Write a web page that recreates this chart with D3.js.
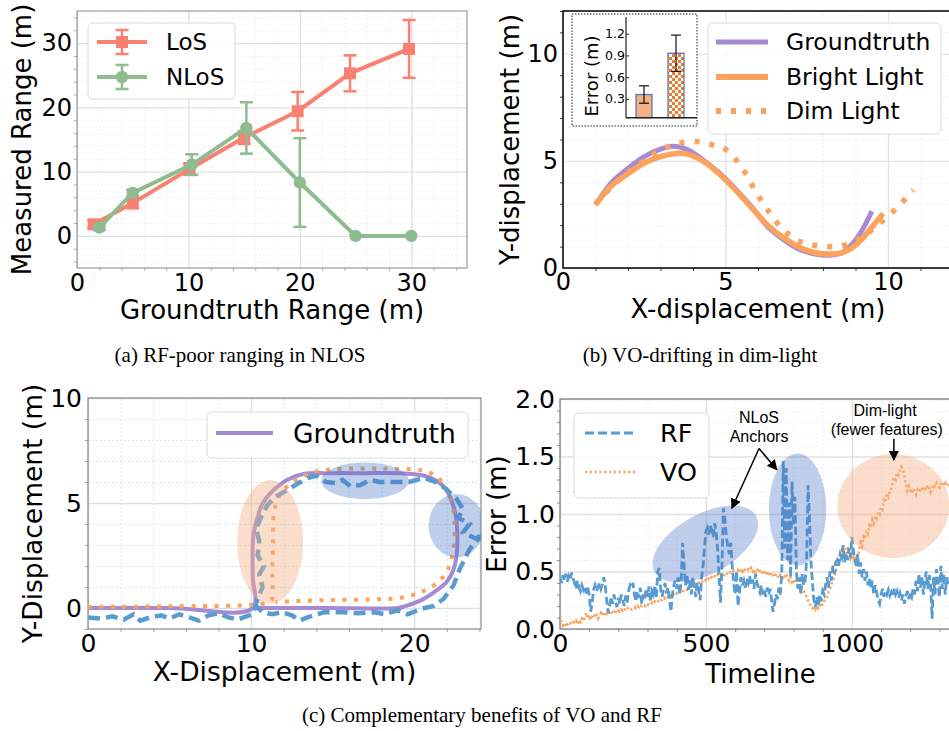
<!DOCTYPE html>
<html>
<head>
<meta charset="utf-8">
<script src="https://cdn.jsdelivr.net/npm/d3@7"></script>
<style>
  body { margin: 0; background: #fff; }
  svg { display: block; }
</style>
</head>
<body>
<svg id="fig" width="949" height="731"></svg>
<script>
// ---------- (a) ranging: LoS vs NLoS ----------
const losGt   = [1.5, 5.0, 10.1, 15.0, 19.8, 24.5, 29.8];
const losMeas = [1.8, 5.1, 10.4, 15.3, 19.4, 25.3, 29.1];
const losStd  = [0.6, 0.8, 0.9, 1.0, 3.0, 2.8, 4.5];
const nlosGt   = [2.0, 5.0, 10.3, 15.2, 20.0, 25.0, 30.0];
const nlosMeas = [1.3, 6.7, 11.1, 16.8, 8.3, 0.0, 0.0];
const nlosStd  = [0.4, 0.5, 1.6, 4.0, 6.9, 0.0, 0.0];
const rangeTicks = [0, 10, 20, 30];

// ---------- (b) VO trajectories ----------
const bGtX = [1.0, 1.5, 2.0, 2.5, 3.0, 3.4, 3.8, 4.3, 4.8, 5.3, 5.8, 6.3, 6.8, 7.3, 7.8, 8.2, 8.6, 8.9, 9.2, 9.5];
const bGtY = [2.95, 4.0, 4.65, 5.2, 5.55, 5.68, 5.55, 5.05, 4.45, 3.7, 2.86, 1.93, 1.31, 0.85, 0.64, 0.6, 0.74, 1.12, 1.75, 2.65];
const bBrightX = [1.0, 1.5, 2.0, 2.5, 3.0, 3.5, 3.8, 4.3, 4.8, 5.3, 5.8, 6.3, 6.8, 7.3, 7.8, 8.2, 8.6, 8.9, 9.2, 9.5, 9.85];
const bBrightY = [2.95, 3.85, 4.4, 4.9, 5.2, 5.35, 5.33, 5.0, 4.4, 3.65, 2.82, 2.0, 1.4, 0.95, 0.7, 0.65, 0.72, 0.95, 1.35, 1.9, 2.55];
const bDimX = [1.0, 1.5, 2.0, 2.5, 3.0, 3.5, 4.15, 4.6, 5.04, 5.55, 5.96, 6.37, 6.78, 7.19, 7.6, 8.11, 8.6, 9.04, 9.4, 9.75, 10.3, 10.78];
const bDimY = [3.0, 3.8, 4.45, 5.0, 5.5, 5.8, 5.9, 5.75, 5.5, 4.58, 3.49, 2.55, 1.78, 1.31, 1.1, 1.0, 1.05, 1.3, 1.65, 2.09, 2.85, 3.64];
const dispTicks = [0, 5, 10];
const lightCond = ["Bright Light", "Dim Light"];
const lightErr = [0.36, 0.93];
const lightErrStd = [0.12, 0.25];
const insetTicks = [0.3, 0.6, 0.9, 1.2];

// ---------- (c) loop trajectory ----------
const cGtX = [0, 5, 10.1, 10.1, 10.1, 10.15, 10.35, 10.6, 10.95, 11.5, 12.2, 13.2, 15, 17, 19, 20.6, 21.4, 21.9, 22.3, 22.55, 22.65, 22.6, 22.4, 22.0, 21.4, 20.5, 19.5, 19.0, 15, 12, 10.1];
const cGtY = [0, 0, 0, 1.5, 3.0, 3.5, 4.2, 4.8, 5.25, 5.7, 6.1, 6.38, 6.42, 6.42, 6.42, 6.3, 6.05, 5.7, 5.1, 4.4, 3.5, 2.5, 1.8, 1.25, 0.85, 0.4, 0.1, 0, 0, 0, 0];
const cVoX = [0, 5, 10, 11.0, 11.3, 11.3, 11.35, 11.4, 11.7, 12.3, 13.0, 14.0, 15.5, 18, 20.5, 21.3, 21.9, 22.3, 22.5, 22.4, 22.1, 21.5, 20.5, 19.3, 18, 15, 12.5, 11.5];
const cVoY = [0.05, 0.08, 0.15, 0.27, 0.45, 1.5, 3.0, 4.5, 5.3, 5.85, 6.2, 6.5, 6.63, 6.63, 6.55, 6.3, 5.8, 5.1, 4.0, 2.8, 1.9, 1.25, 0.78, 0.5, 0.42, 0.38, 0.32, 0.28];
const cRfX = [0, 0.8, 1.5, 2.2, 2.8, 3.2, 3.8, 4.5, 5.0, 5.6, 6.2, 6.8, 7.4, 8.0, 8.6, 9.2, 9.7, 10.1, 10.3, 10.7,
              10.5, 10.8, 10.4, 10.5, 10.3, 10.6, 11.0, 11.5, 12.2, 12.8, 13.5, 14.0, 14.6, 15.2, 15.6, 16.1, 16.7, 17.3, 17.9, 18.7,
              19.7, 20.6, 21.3, 21.9, 22.3, 22.6, 23.0, 22.7, 23.4, 23.0, 23.8, 24.3, 23.4, 22.8, 22.4, 21.8, 21.2, 20.4, 19.6, 19.0,
              18.2, 17.6, 16.6, 15.6, 14.5, 13.5, 13.0, 12.5, 11.9, 11.3, 10.7, 10.3];
const cRfY = [-0.45, -0.5, -0.4, -0.55, -0.3, -0.6, -0.45, -0.35, -0.5, -0.3, -0.45, -0.6, -0.35, -0.25, -0.45, -0.55, -0.4, -0.3, 0.2, 1.0,
              1.6, 2.0, 2.5, 3.2, 3.8, 4.3, 4.9, 5.3, 5.6, 5.9, 6.2, 6.3, 6.0, 5.95, 6.1, 5.8, 5.85, 6.1, 6.0, 6.0,
              6.0, 6.2, 6.0, 5.7, 5.4, 5.2, 4.7, 4.3, 4.0, 3.6, 3.3, 3.6, 2.8, 1.86, 1.06, 0.43, 0.1, -0.05, -0.3, -0.1,
              -0.3, -0.2, -0.25, -0.2, -0.2, -0.43, -0.6, -0.35, -0.2, -0.3, -0.2, 0.1];
const loopXTicks = [0, 10, 20];
const loopYTicks = [0, 5, 10];

// ---------- (c) error over time (one sample every 5 steps) ----------
const timeStep = 5;
const rfErr = [
  0.45,0.40,0.47,0.42,0.48,0.41,0.46,0.43,0.49,0.44,
  0.40,0.35,0.42,0.36,0.33,0.38,0.34,0.37,0.31,0.36,
  0.30,0.15,0.22,0.34,0.38,0.33,0.36,0.40,0.35,0.39,
  0.45,0.38,0.25,0.14,0.20,0.28,0.22,0.30,0.24,0.19,
  0.27,0.22,0.30,0.25,0.20,0.29,0.23,0.33,0.38,0.36,
  0.40,0.30,0.24,0.33,0.27,0.36,0.22,0.30,0.26,0.35,
  0.28,0.37,0.24,0.33,0.30,0.38,0.27,0.50,0.53,0.34,
  0.28,0.35,0.40,0.31,0.36,0.26,0.15,0.30,0.38,0.42,
  0.35,0.45,0.30,0.40,0.75,0.55,0.38,0.47,0.34,0.42,
  0.30,0.45,0.36,0.28,0.40,0.33,0.25,0.44,0.55,0.70,
  0.85,0.88,0.82,0.90,0.86,0.80,0.92,0.84,0.70,0.45,
  0.23,0.55,1.05,0.95,0.80,0.72,0.65,0.75,0.55,0.40,
  0.30,0.50,0.20,0.32,0.45,0.38,0.42,0.36,0.44,0.40,
  0.46,0.38,0.43,0.35,0.48,0.40,0.36,0.32,0.38,0.30,
  0.34,0.28,0.36,0.30,0.35,0.25,0.15,0.22,0.30,0.26,
  0.36,0.30,0.50,1.46,0.70,1.40,0.60,1.10,0.45,1.28,
  0.90,1.15,0.50,0.35,0.45,0.30,0.48,0.38,0.42,0.60,
  1.25,0.95,0.58,0.40,0.25,0.19,0.28,0.20,0.30,0.24,
  0.33,0.30,0.38,0.45,0.36,0.50,0.42,0.55,0.48,0.58,
  0.60,0.55,0.65,0.62,0.73,0.58,0.66,0.60,0.70,0.62,
  0.80,0.68,0.60,0.55,0.65,0.48,0.58,0.45,0.52,0.42,
  0.50,0.38,0.44,0.35,0.42,0.30,0.38,0.32,0.25,0.22,
  0.30,0.35,0.28,0.33,0.30,0.34,0.29,0.32,0.28,0.35,
  0.30,0.33,0.27,0.31,0.25,0.30,0.22,0.28,0.33,0.26,
  0.31,0.28,0.35,0.30,0.42,0.33,0.48,0.36,0.45,0.30,
  0.42,0.50,0.35,0.47,0.38,0.09,0.45,0.30,0.52,0.40,
  0.28,0.55,0.35,0.48,0.30,0.45,0.38];
const voErr = [
  0.12,0.06,0.03,0.05,0.02,0.04,0.03,0.05,0.04,0.06,
  0.05,0.07,0.04,0.08,0.06,0.09,0.07,0.10,0.14,0.09,
  0.12,0.08,0.11,0.13,0.10,0.12,0.09,0.11,0.14,0.12,
  0.15,0.11,0.13,0.12,0.14,0.16,0.13,0.15,0.17,0.14,
  0.16,0.15,0.17,0.16,0.18,0.16,0.17,0.19,0.18,0.17,
  0.18,0.19,0.18,0.20,0.19,0.21,0.20,0.21,0.20,0.22,
  0.21,0.22,0.21,0.23,0.22,0.24,0.23,0.24,0.25,0.24,
  0.26,0.25,0.27,0.26,0.28,0.27,0.29,0.28,0.30,0.29,
  0.31,0.30,0.32,0.33,0.32,0.34,0.35,0.34,0.36,0.37,
  0.36,0.38,0.37,0.39,0.38,0.40,0.41,0.40,0.42,0.41,
  0.43,0.42,0.44,0.43,0.45,0.44,0.46,0.45,0.47,0.46,
  0.45,0.47,0.46,0.48,0.47,0.49,0.48,0.50,0.49,0.51,
  0.50,0.48,0.51,0.49,0.52,0.50,0.53,0.51,0.50,0.52,
  0.51,0.53,0.50,0.52,0.49,0.51,0.53,0.50,0.48,0.51,
  0.49,0.47,0.50,0.48,0.46,0.49,0.47,0.45,0.48,0.46,
  0.44,0.47,0.45,0.43,0.46,0.48,0.44,0.42,0.45,0.41,
  0.43,0.40,0.42,0.38,0.36,0.39,0.35,0.33,0.30,0.28,
  0.25,0.22,0.20,0.18,0.19,0.17,0.20,0.18,0.21,0.19,
  0.22,0.24,0.26,0.28,0.32,0.35,0.38,0.42,0.45,0.50,
  0.55,0.60,0.65,0.68,0.63,0.70,0.66,0.72,0.68,0.62,
  0.66,0.60,0.64,0.58,0.62,0.68,0.75,0.72,0.80,0.78,
  0.86,0.83,0.90,0.88,0.95,0.92,0.98,0.96,1.02,1.00,
  1.06,1.04,1.12,1.10,1.18,1.15,1.20,1.22,1.28,1.32,
  1.30,1.36,1.34,1.38,1.41,1.39,1.33,1.26,1.20,1.24,
  1.21,1.18,1.22,1.20,1.17,1.21,1.19,1.23,1.20,1.22,
  1.24,1.21,1.25,1.23,1.19,1.22,1.26,1.24,1.27,1.25,
  1.23,1.26,1.28,1.25,1.27,1.24,1.26];
const timeTicks = [0, 500, 1000];
const errTicks = [0, 0.5, 1.0, 1.5, 2.0];

// ---------- drawing ----------
const FONT = '"DejaVu Sans", sans-serif';
const C = {
  los: "#fa8072", nlos: "#8fbc8f", gt: "#a68ad4", orange: "#fba35c",
  rf: "#5a9bd0", vo: "#fba35c", blueBlob: "#4472c4", orangeBlob: "#f4b183"
};
const svg = d3.select("#fig");
const defs = svg.append("defs");

function frame(o) {
  const g = svg.append("g");
  const x = d3.scaleLinear().domain(o.xDom).range([o.L, o.R]);
  const y = d3.scaleLinear().domain(o.yDom).range([o.B, o.T]);
  const W = o.R - o.L, H = o.B - o.T;
  defs.append("clipPath").attr("id", o.id).append("rect")
    .attr("x", o.L).attr("y", o.T).attr("width", W).attr("height", H);
  const styleGrid = (s, col, w, dash) => {
    s.select(".domain").remove();
    s.selectAll("line").attr("stroke", col).attr("stroke-width", w).attr("stroke-dasharray", dash);
  };
  const xMin = o.xMinor.filter(v => !o.xTicks.includes(v));
  const yMin = o.yMinor.filter(v => !o.yTicks.includes(v));
  g.append("g").attr("transform", `translate(0,${o.B})`)
    .call(d3.axisBottom(x).tickValues(xMin).tickSize(-H).tickFormat(""))
    .call(s => styleGrid(s, o.minorC, 0.8, "2,2"));
  g.append("g").attr("transform", `translate(${o.L},0)`)
    .call(d3.axisLeft(y).tickValues(yMin).tickSize(-W).tickFormat(""))
    .call(s => styleGrid(s, o.minorC, 0.8, "2,2"));
  g.append("g").attr("transform", `translate(0,${o.B})`)
    .call(d3.axisBottom(x).tickValues(o.xTicks).tickSize(-H).tickFormat(""))
    .call(s => styleGrid(s, o.majorC, 1.4, null));
  g.append("g").attr("transform", `translate(${o.L},0)`)
    .call(d3.axisLeft(y).tickValues(o.yTicks).tickSize(-W).tickFormat(""))
    .call(s => styleGrid(s, o.majorC, 1.4, null));
  // small minor tick marks along the left and bottom spines
  g.append("g").attr("transform", `translate(0,${o.B})`)
    .call(d3.axisBottom(x).tickValues(xMin).tickSize(3).tickFormat(""))
    .call(s => styleGrid(s, o.spineC, 0.8, null));
  g.append("g").attr("transform", `translate(${o.L},0)`)
    .call(d3.axisLeft(y).tickValues(yMin).tickSize(3).tickFormat(""))
    .call(s => styleGrid(s, o.spineC, 0.8, null));
  g.append("rect").attr("x", o.L).attr("y", o.T).attr("width", W).attr("height", H)
    .attr("fill", "none").attr("stroke", o.spineC).attr("stroke-width", o.spineW);
  const styleText = s => {
    s.select(".domain").remove();
    s.selectAll("line").remove();
    s.selectAll("text").attr("font-family", FONT).attr("font-size", o.fs).attr("fill", "#000");
  };
  g.append("g").attr("transform", `translate(0,${o.B})`)
    .call(d3.axisBottom(x).tickValues(o.xTicks).tickSize(0).tickPadding(o.padX).tickFormat(o.xFmt || d3.format("d")))
    .call(styleText);
  g.append("g").attr("transform", `translate(${o.L},0)`)
    .call(d3.axisLeft(y).tickValues(o.yTicks).tickSize(0).tickPadding(o.padY).tickFormat(o.yFmt || d3.format("d")))
    .call(styleText);
  // axis titles
  svg.append("text").attr("x", (o.L + Math.min(o.R, 949)) / 2 + (o.xLabDx || 0)).attr("y", o.xLabY)
    .attr("text-anchor", "middle").attr("font-family", FONT).attr("font-size", o.lfs).text(o.xLab);
  svg.append("text").attr("transform", `translate(${o.yLabX},${(o.T + o.B) / 2 + (o.yLabDy || 0)}) rotate(-90)`)
    .attr("text-anchor", "middle").attr("font-family", FONT).attr("font-size", o.lfs).text(o.yLab);
  const plot = svg.append("g").attr("clip-path", `url(#${o.id})`);
  return { x, y, plot };
}

function legendBox(x0, y0, x1, y1) {
  svg.append("rect").attr("x", x0).attr("y", y0).attr("width", x1 - x0).attr("height", y1 - y0)
    .attr("rx", 5).attr("fill", "#fff").attr("fill-opacity", 0.85)
    .attr("stroke", "#dcdcdc").attr("stroke-width", 1);
}
function legendText(x, yc, fs, label) {
  svg.append("text").attr("x", x).attr("y", yc + fs * 0.36).attr("font-family", FONT)
    .attr("font-size", fs).text(label);
}

// ===== (a) =====
{
  const { x, y, plot } = frame({
    id: "clipA", L: 77, R: 467, T: 11, B: 268, xDom: [0, 35], yDom: [-5, 35],
    xTicks: rangeTicks, yTicks: rangeTicks, xMinor: d3.range(0, 35, 2), yMinor: d3.range(-4, 35, 2),
    majorC: "#e1e1e1", minorC: "#ececec", spineC: "#9a9a9a", spineW: 1.2,
    fs: 24, padX: 6, padY: 5, lfs: 26,
    xLab: "Groundtruth Range (m)", xLabY: 319, xLabDx: 0,
    yLab: "Measured Range (m)", yLabX: 31, yLabDy: 0
  });
  const series = [
    { gx: losGt, m: losMeas, s: losStd, col: C.los, mark: "square" },
    { gx: nlosGt, m: nlosMeas, s: nlosStd, col: C.nlos, mark: "circle" }
  ];
  series.forEach(sr => {
    const pts = sr.gx.map((v, i) => [v, sr.m[i], sr.s[i]]);
    const g = svg.append("g");
    g.append("path").datum(pts).attr("fill", "none").attr("stroke", sr.col).attr("stroke-width", 4)
      .attr("d", d3.line().x(d => x(d[0])).y(d => y(d[1])));
    pts.filter(d => d[2] > 0).forEach(d => {
      const cx = x(d[0]);
      g.append("line").attr("x1", cx).attr("x2", cx).attr("y1", y(d[1] - d[2])).attr("y2", y(d[1] + d[2]))
        .attr("stroke", sr.col).attr("stroke-width", 2.5);
      [d[1] - d[2], d[1] + d[2]].forEach(v => g.append("line").attr("x1", cx - 6.5).attr("x2", cx + 6.5)
        .attr("y1", y(v)).attr("y2", y(v)).attr("stroke", sr.col).attr("stroke-width", 2.5));
    });
    pts.forEach(d => {
      if (sr.mark === "square")
        g.append("rect").attr("x", x(d[0]) - 6).attr("y", y(d[1]) - 6).attr("width", 12).attr("height", 12).attr("fill", sr.col);
      else
        g.append("circle").attr("cx", x(d[0])).attr("cy", y(d[1])).attr("r", 6.2).attr("fill", sr.col);
    });
  });
  legendBox(88, 23, 235, 99);
  [["LoS", C.los, "square", 42], ["NLoS", C.nlos, "circle", 77]].forEach(([lab, col, mk, yc]) => {
    svg.append("line").attr("x1", 97).attr("x2", 147).attr("y1", yc).attr("y2", yc).attr("stroke", col).attr("stroke-width", 4);
    svg.append("line").attr("x1", 122).attr("x2", 122).attr("y1", yc - 12).attr("y2", yc + 12).attr("stroke", col).attr("stroke-width", 2.5);
    [yc - 12, yc + 12].forEach(v => svg.append("line").attr("x1", 115.5).attr("x2", 128.5).attr("y1", v).attr("y2", v).attr("stroke", col).attr("stroke-width", 2.5));
    if (mk === "square") svg.append("rect").attr("x", 116).attr("y", yc - 6).attr("width", 12).attr("height", 12).attr("fill", col);
    else svg.append("circle").attr("cx", 122).attr("cy", yc).attr("r", 6.2).attr("fill", col);
    legendText(166, yc, 23, lab);
  });
}

// ===== (b) =====
{
  const { x, y, plot } = frame({
    id: "clipB", L: 563, R: 953, T: 11, B: 268, xDom: [0, 12], yDom: [0, 12],
    xTicks: dispTicks, yTicks: dispTicks, xMinor: d3.range(0, 13, 1), yMinor: d3.range(0, 13, 1),
    majorC: "#e4e4e4", minorC: "#ececec", spineC: "#111", spineW: 1.6,
    fs: 24, padX: 5, padY: 5, lfs: 26,
    xLab: "X-displacement (m)", xLabY: 318, xLabDx: 2,
    yLab: "Y-displacement (m)", yLabX: 519, yLabDy: 0
  });
  const line = d3.line().x(d => x(d[0])).y(d => y(d[1])).curve(d3.curveCatmullRom.alpha(0.5));
  plot.append("path").datum(bGtX.map((v, i) => [v, bGtY[i]])).attr("fill", "none")
    .attr("stroke", C.gt).attr("stroke-width", 5).attr("d", line);
  plot.append("path").datum(bBrightX.map((v, i) => [v, bBrightY[i]])).attr("fill", "none")
    .attr("stroke", C.orange).attr("stroke-width", 5.5).attr("d", line);
  plot.append("path").datum(bDimX.map((v, i) => [v, bDimY[i]])).attr("fill", "none")
    .attr("stroke", C.orange).attr("stroke-width", 5.5).attr("stroke-dasharray", "5,10").attr("d", line);

  // legend
  legendBox(708, 23, 941, 134);
  [["Groundtruth", 42, C.gt, null, 5], ["Bright Light", 77, C.orange, null, 6], ["Dim Light", 111, C.orange, "5,10", 6]]
    .forEach(([lab, yc, col, dash, w]) => {
      svg.append("line").attr("x1", 716).attr("x2", 768).attr("y1", yc).attr("y2", yc)
        .attr("stroke", col).attr("stroke-width", w).attr("stroke-dasharray", dash);
      legendText(786, yc, 23.5, lab);
    });

  // inset: mean error per lighting condition
  svg.append("rect").attr("x", 572).attr("y", 14).attr("width", 125).attr("height", 112)
    .attr("fill", "#fff").attr("stroke", "#222").attr("stroke-width", 1).attr("stroke-dasharray", "1.5,1.5");
  const pat = defs.append("pattern").attr("id", "checker").attr("patternUnits", "userSpaceOnUse")
    .attr("width", 6).attr("height", 6);
  pat.append("rect").attr("width", 6).attr("height", 6).attr("fill", "#fff");
  pat.append("rect").attr("width", 3).attr("height", 3).attr("fill", "#ef7a2e");
  pat.append("rect").attr("x", 3).attr("y", 3).attr("width", 3).attr("height", 3).attr("fill", "#ef7a2e");
  const ix = d3.scaleBand().domain(lightCond).range([620, 700]).padding(0.5);
  const iy = d3.scaleLinear().domain([0.04, 1.43]).range([117.7, 17]);
  const ig = svg.append("g");
  lightCond.forEach((c, i) => {
    ig.append("rect").attr("x", ix(c)).attr("y", iy(lightErr[i])).attr("width", ix.bandwidth())
      .attr("height", iy(0.04) - iy(lightErr[i]))
      .attr("fill", i === 0 ? "#f4b183" : "url(#checker)").attr("stroke", "#4f6fae").attr("stroke-width", 1.2);
    const cx = ix(c) + ix.bandwidth() / 2;
    const lo = lightErr[i] - lightErrStd[i], hi = lightErr[i] + lightErrStd[i];
    ig.append("line").attr("x1", cx).attr("x2", cx).attr("y1", iy(lo)).attr("y2", iy(hi)).attr("stroke", "#111").attr("stroke-width", 1.2);
    [lo, hi].forEach(v => ig.append("line").attr("x1", cx - 5).attr("x2", cx + 5).attr("y1", iy(v)).attr("y2", iy(v))
      .attr("stroke", "#111").attr("stroke-width", 1.2));
  });
  ig.append("line").attr("x1", 626).attr("x2", 626).attr("y1", 17).attr("y2", 117.7).attr("stroke", "#222").attr("stroke-width", 1.2);
  ig.append("line").attr("x1", 626).attr("x2", 697).attr("y1", 117.7).attr("y2", 117.7).attr("stroke", "#222").attr("stroke-width", 1.6);
  ig.append("g").attr("transform", "translate(626,0)")
    .call(d3.axisRight(iy).tickValues(insetTicks).tickSize(3).tickFormat(d3.format(".1f")))
    .call(s => {
      s.select(".domain").remove();
      s.selectAll("line").attr("stroke", "#222");
      s.selectAll("text").attr("x", -1).attr("text-anchor", "end").attr("font-family", FONT).attr("font-size", 12.5).attr("fill", "#000");
    });
  svg.append("text").attr("transform", "translate(598,76) rotate(-90)").attr("text-anchor", "middle")
    .attr("font-family", FONT).attr("font-size", 18).text("Error (m)");
}

// ===== (c) left: loop trajectory =====
{
  const { x, y, plot } = frame({
    id: "clipC1", L: 88, R: 481, T: 398, B: 629, xDom: [0, 24.1], yDom: [-1, 10],
    xTicks: loopXTicks, yTicks: loopYTicks, xMinor: d3.range(0, 25, 2), yMinor: d3.range(-1, 11, 1),
    majorC: "#d9e0e3", minorC: "#bfe6ef", spineC: "#8a8a8a", spineW: 1.2,
    fs: 25, padX: 5, padY: 6, lfs: 26.5,
    xLab: "X-Displacement (m)", xLabY: 681, xLabDx: 0,
    yLab: "Y-Displacement (m)", yLabX: 42, yLabDy: 0
  });
  const smooth = d3.line().x(d => x(d[0])).y(d => y(d[1])).curve(d3.curveCatmullRom.alpha(0.5));
  const lin = d3.line().x(d => x(d[0])).y(d => y(d[1]));
  plot.append("path").datum(cGtX.map((v, i) => [v, cGtY[i]])).attr("fill", "none")
    .attr("stroke", C.gt).attr("stroke-width", 4).attr("d", smooth);
  plot.append("path").datum(cVoX.map((v, i) => [v, cVoY[i]])).attr("fill", "none")
    .attr("stroke", C.vo).attr("stroke-width", 4).attr("stroke-dasharray", "4,7.5").attr("d", smooth);
  plot.append("path").datum(cRfX.map((v, i) => [v, cRfY[i]])).attr("fill", "none")
    .attr("stroke", C.rf).attr("stroke-width", 4.5).attr("stroke-dasharray", "12,6").attr("d", lin);
  // highlighted regions
  const blobs = [
    { cx: 11.17, cy: 3.14, rx: 33, ry: 61.7, col: C.orangeBlob, op: 0.42 },
    { cx: 16.99, cy: 6.06, rx: 44, ry: 18.3, col: C.blueBlob, op: 0.34 },
    { cx: 22.6, cy: 3.92, rx: 28, ry: 31.7, col: C.blueBlob, op: 0.34 }
  ];
  blobs.forEach(b => plot.append("ellipse").attr("cx", x(b.cx)).attr("cy", y(b.cy)).attr("rx", b.rx).attr("ry", b.ry)
    .attr("fill", b.col).attr("fill-opacity", b.op));
  legendBox(207, 412, 468, 458);
  svg.append("line").attr("x1", 216).attr("x2", 273).attr("y1", 433).attr("y2", 433).attr("stroke", C.gt).attr("stroke-width", 4);
  legendText(293, 433, 26.5, "Groundtruth");
}

// ===== (c) right: error over time =====
{
  const { x, y, plot } = frame({
    id: "clipC2", L: 560, R: 954, T: 399, B: 629, xDom: [0, 1350], yDom: [0, 2],
    xTicks: timeTicks, yTicks: errTicks, xMinor: d3.range(0, 1351, 100), yMinor: d3.range(0, 2.01, 0.1).map(v => +v.toFixed(1)),
    majorC: "#e0e0e0", minorC: "#ececec", spineC: "#7a7a7a", spineW: 1.2,
    fs: 25, padX: 5, padY: 5, lfs: 26,
    xLab: "Timeline", xLabY: 683, xLabDx: 6,
    yLab: "Error (m)", yLabX: 506, yLabDy: 0,
    yFmt: d3.format(".1f")
  });
  const line = d3.line().x((d, i) => x(i * timeStep)).y(d => y(d));
  plot.append("path").datum(voErr).attr("fill", "none").attr("stroke", C.vo).attr("stroke-width", 2.6)
    .attr("stroke-dasharray", "2.2,2.6").attr("d", line);
  plot.append("path").datum(rfErr).attr("fill", "none").attr("stroke", C.rf).attr("stroke-width", 2.8)
    .attr("stroke-dasharray", "8,3.5").attr("d", line);

  // highlighted regions (centre in data units, radii in px)
  const blobs = [
    { t: 498, v: 0.74, rx: 58, ry: 30, rot: -29, col: C.blueBlob, op: 0.34 },
    { t: 814, v: 1.04, rx: 28.7, ry: 56, rot: 0, col: C.blueBlob, op: 0.34 },
    { t: 1142, v: 1.07, rx: 56, ry: 52, rot: 0, col: C.orangeBlob, op: 0.42 }
  ];
  blobs.forEach(b => plot.append("ellipse")
    .attr("transform", `translate(${x(b.t)},${y(b.v)}) rotate(${b.rot})`)
    .attr("rx", b.rx).attr("ry", b.ry).attr("fill", b.col).attr("fill-opacity", b.op));

  // annotations
  defs.append("marker").attr("id", "arrowHead").attr("viewBox", "0 0 10 10").attr("refX", 9).attr("refY", 5)
    .attr("markerWidth", 7).attr("markerHeight", 7).attr("orient", "auto-start-reverse")
    .append("path").attr("d", "M0,0 L10,5 L0,10 Z").attr("fill", "#000");
  const ANNO = '"Liberation Sans", Arial, sans-serif';
  const note = (t, v, s) => svg.append("text").attr("x", x(t)).attr("y", y(v)).attr("text-anchor", "middle")
    .attr("font-family", ANNO).attr("font-size", 16).text(s);
  note(682, 1.79, "NLoS");
  note(682, 1.63, "Anchors");
  note(1114, 1.855, "Dim-light");
  note(1120, 1.69, "(fewer features)");
  const arrow = (t0, v0, t1, v1) => svg.append("line").attr("x1", x(t0)).attr("y1", y(v0)).attr("x2", x(t1)).attr("y2", y(v1))
    .attr("stroke", "#000").attr("stroke-width", 1.5).attr("marker-end", "url(#arrowHead)");
  arrow(682, 1.57, 589, 1.05);
  arrow(682, 1.57, 743, 1.385);
  arrow(1144, 1.655, 1144, 1.47);

  legendBox(574, 413, 709, 498);
  svg.append("line").attr("x1", 585).attr("x2", 637).attr("y1", 433).attr("y2", 433)
    .attr("stroke", C.rf).attr("stroke-width", 2.8).attr("stroke-dasharray", "9,4");
  svg.append("line").attr("x1", 585).attr("x2", 637).attr("y1", 472).attr("y2", 472)
    .attr("stroke", C.vo).attr("stroke-width", 2.6).attr("stroke-dasharray", "2.2,2.6");
  legendText(660, 433, 25.5, "RF");
  legendText(660, 472, 25.5, "VO");
}

// ===== sub-figure captions =====
const CAP = '"Linux Libertine O", "Liberation Serif", "DejaVu Serif", serif';
[[240, 362, "(a) RF-poor ranging in NLOS"], [700, 362, "(b) VO-drifting in dim-light"], [482, 722, "(c) Complementary benefits of VO and RF"]]
  .forEach(([cx, by, s]) => svg.append("text").attr("x", cx).attr("y", by).attr("text-anchor", "middle")
    .attr("font-family", CAP).attr("font-size", 21).text(s));
</script>
</body>
</html>
